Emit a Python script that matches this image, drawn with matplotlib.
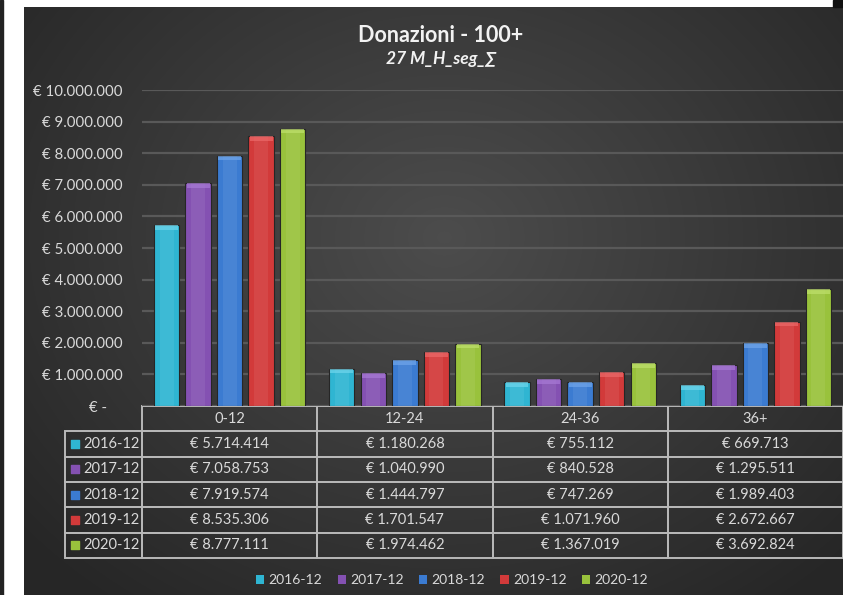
import numpy as np
import matplotlib
matplotlib.use("Agg")
import matplotlib.pyplot as plt
from matplotlib.patches import Rectangle, Patch

plt.rcParams['font.family'] = ['Lato', 'DejaVu Sans']

categories = ['0-12', '12-24', '24-36', '36+']
series_names = ['2016-12', '2017-12', '2018-12', '2019-12', '2020-12']
values = {
    '2016-12': [5714414, 1180268, 755112, 669713],
    '2017-12': [7058753, 1040990, 840528, 1295511],
    '2018-12': [7919574, 1444797, 747269, 1989403],
    '2019-12': [8535306, 1701547, 1071960, 2672667],
    '2020-12': [8777111, 1974462, 1367019, 3692824],
}
yticks = [0, 1e6, 2e6, 3e6, 4e6, 5e6, 6e6, 7e6, 8e6, 9e6, 10e6]
title = 'Donazioni - 100+'
subtitle = '27 M_H_seg_\u2211'

colors = ['#2fb5d2', '#8451b2', '#3b7bd1', '#d23a3a', '#99c23c']
caps = ['#6fd6ec', '#a87ad6', '#70a6ea', '#ec6a6a', '#bfe06c']
txt = '#d9d9d9'
grid = '#595959'
border = '#b8b8b8'

W, H = 843, 595
fig = plt.figure(figsize=(W / 100, H / 100), dpi=100, facecolor='white')

# background
bg = fig.add_axes([0, 0, 1, 1])
bg.set_xlim(0, W)
bg.set_ylim(H, 0)
bg.axis('off')
yy, xx = np.mgrid[0:588, 0:819]
cx, cy = 420, 230
r = np.sqrt(((xx - cx) / 520.0) ** 2 + ((yy - cy) / 430.0) ** 2)
g = np.clip(0.30 - 0.14 * r, 0.15, 0.30)
img = np.dstack([g, g, g])
bg.imshow(img, extent=[24, W, H, 7], aspect='auto', interpolation='bilinear')
bg.add_patch(Rectangle((0, 0), 2.5, H, color='#222222'))
bg.add_patch(Rectangle((833, 0), 10, 7, color='#111111'))

fig.text(441 / W, 1 - 36 / H, title, ha='center', va='center', color='#f2f2f2',
         fontsize=15.5, fontweight='bold')
fig.text(441 / W, 1 - 59 / H, subtitle, ha='center', va='center', color='#f2f2f2',
         fontsize=12.5, fontweight='bold', fontstyle='italic')

# main axes
ax_l, ax_r, ax_t, ax_b = 142, 843, 90, 406
ax = fig.add_axes([ax_l / W, 1 - ax_b / H, (ax_r - ax_l) / W, (ax_b - ax_t) / H])
ax.patch.set_alpha(0)
ax.set_xlim(-0.5, len(categories) - 0.5)
ax.set_ylim(0, 10e6)
for s in ax.spines.values():
    s.set_visible(False)
ax.set_yticks(yticks)


def fmt(v):
    if v == 0:
        return '\u20ac -    '
    return '\u20ac ' + f'{int(v):,}'.replace(',', '.')


ax.set_yticklabels([fmt(v) for v in yticks], color=txt, fontsize=10.8)
ax.tick_params(axis='y', length=0, pad=14)
ax.set_xticks([])
ax.yaxis.grid(True, color=grid, lw=1.6)
ax.set_axisbelow(True)

n = len(series_names)
step = 0.18
bw = 0.145
x = np.arange(len(categories))
cap_h = 150000
for i, name in enumerate(series_names):
    v = np.array(values[name], dtype=float)
    xpos = x + (i - (n - 1) / 2) * step
    ax.bar(xpos, v, width=bw, color=colors[i], edgecolor='#262626', lw=0.8, zorder=3)
    ax.bar(xpos, v, width=bw * 0.55, color='white', alpha=0.07, lw=0, zorder=3.5)
    ax.bar(xpos, np.full_like(v, cap_h), bottom=v - cap_h, width=bw * 0.9,
           color=caps[i], lw=0, zorder=4, alpha=0.7)

# table
tw = ax_r - ax_l
label_w = 77
col_w = (tw) / len(categories)
cell_text = [[name] + [fmt(v) for v in values[name]] for name in series_names]
col_labels = [''] + categories
t_left = -label_w / tw
t_h = (558 - 406) / (ax_b - ax_t)
tbl = ax.table(cellText=cell_text, colLabels=col_labels,
               colWidths=[label_w] + [col_w] * len(categories),
               bbox=[t_left, -t_h, 1 - t_left, t_h], cellLoc='center')
tbl.auto_set_font_size(False)
for (r_, c_), cell in tbl.get_celld().items():
    cell.set_facecolor('none')
    cell.set_edgecolor(border)
    cell.set_linewidth(1.4)
    cell.get_text().set_color(txt)
    cell.get_text().set_fontsize(10.5)
    if r_ == 0 and c_ == 0:
        cell.visible_edges = ''
    if c_ == 0 and r_ > 0:
        cell.get_text().set_ha('right')
        cell._loc = 'right'
        cell.PAD = 0.03
        cell.get_text().set_fontsize(10.5)
    cell.set_clip_on(False)

row_h = t_h / (len(series_names) + 1)
for i, name in enumerate(series_names):
    ax.scatter([t_left + 10 / tw], [-row_h * (i + 1.5)], marker='s', s=28,
               color=colors[i], transform=ax.transAxes, clip_on=False, zorder=6)

handles = [Patch(facecolor=c, edgecolor='none') for c in colors]
leg = fig.legend(handles, series_names, loc='center', ncol=5,
                 bbox_to_anchor=(452 / W, 1 - 580 / H), frameon=False,
                 fontsize=10, handlelength=0.6, handleheight=0.6,
                 handletextpad=0.3, columnspacing=1.1)
for t in leg.get_texts():
    t.set_color(txt)

fig.savefig('out.png', dpi=100, facecolor=fig.get_facecolor())
